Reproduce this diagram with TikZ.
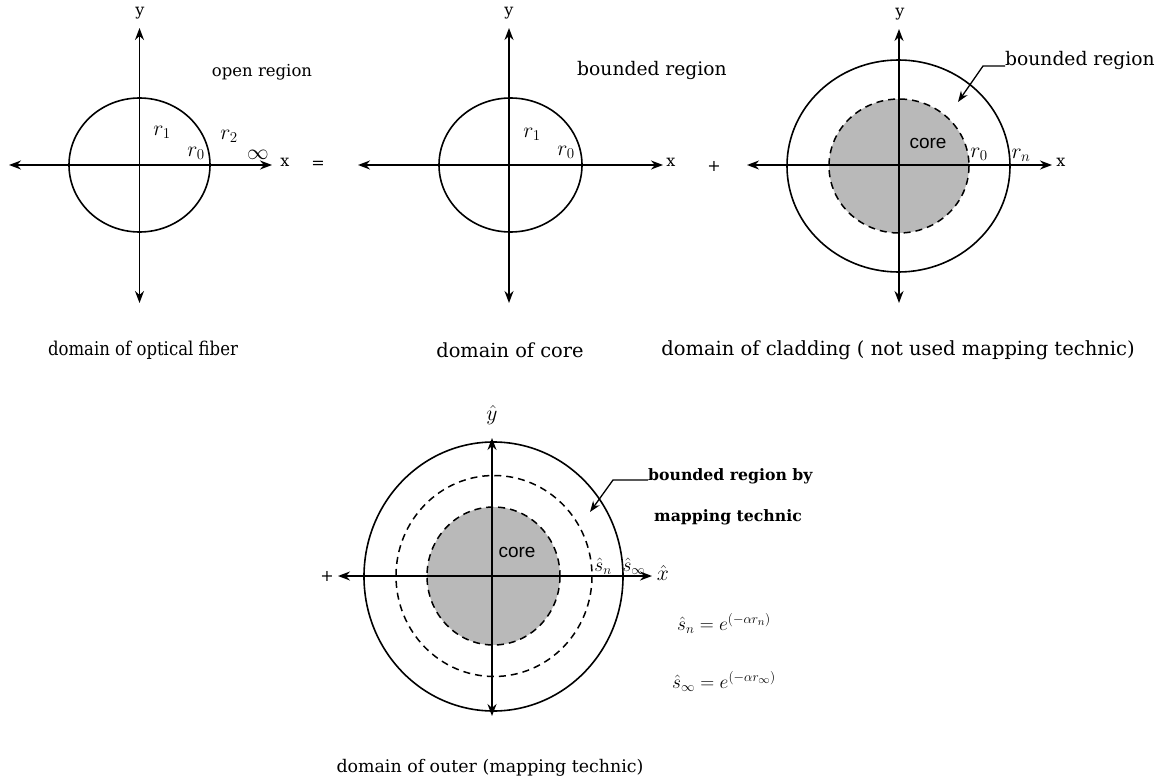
\documentclass[tikz,border=0pt]{standalone}
\usepackage{fontspec}
\setmainfont{DejaVu Serif}
\newfontfamily\narrowfont[FakeStretch=0.87]{DejaVu Serif}
\newfontfamily\corefont{Liberation Sans}
\usetikzlibrary{arrows.meta}
\newcommand{\fsz}[1]{\fontsize{#1}{#1}\selectfont}
\newcommand{\mth}[1]{\scalebox{1.12}{$#1$}}
\newcommand{\rlab}[1]{\scalebox{1.25}{$#1$}}
\begin{document}
\begin{tikzpicture}[x=1pt,y=-1pt,
  tip/.tip={Stealth[length=12pt,width=9pt]},
  bax/.style={line width=1.6pt,{tip}-{tip}},
  lead/.style={line width=1.3pt,-{Stealth[length=11pt,width=8pt]}},
  circ/.style={line width=1.6pt},
  dcirc/.style={line width=1.5pt,dash pattern=on 7pt off 5pt},
  lab/.style={font=\fsz{16},inner sep=0pt},
  mlab/.style={font=\fsz{17.28},inner sep=0pt},
  corelab/.style={font=\corefont\fsz{19},inner sep=0pt},
  boldlab/.style={font=\bfseries\fsz{15.7},inner sep=0pt},
  corefill/.style={fill=gray!55}]
\useasboundingbox (0,0) rectangle (1165,781);

% ---------- panel 1 ----------
\coordinate (a1l) at (9,165); \coordinate (a1r) at (272,165);
\coordinate (a1t) at (139.5,28); \coordinate (a1b) at (139.5,303);
\draw[circ] (139.5,165) ellipse [x radius=70.5, y radius=67];
\draw[bax] (a1l) -- (a1r);
\draw[bax] (a1b) -- (a1t);
\node[lab] (y1) at (140,13) {y};
\node[lab] (x1) at (285,162) {x};
\node[lab,font=\fsz{16.5}] (or) at (262,72) {open region};
\node[mlab] (r11) at (162,132) {\rlab{r_1}};
\node[mlab] (r21) at (229,136) {\rlab{r_2}};
\node[mlab] (r01) at (196,153) {\rlab{r_0}};
\node[mlab] (inf1) at (258,155) {\rlab{\infty}};
\node[lab] (eq) at (318,165) {=};
\node[lab,font=\narrowfont\fsz{19}] (c1) at (143,350) {domain of optical fiber};

% ---------- panel 2 ----------
\coordinate (a2l) at (358,165); \coordinate (a2r) at (663,165);
\coordinate (a2t) at (509,28); \coordinate (a2b) at (509,303);
\draw[circ] (510.5,165) ellipse [x radius=71.5, y radius=67];
\draw[bax] (a2l) -- (a2r);
\draw[bax] (a2b) -- (a2t);
\node[lab] (y2) at (509,13) {y};
\node[lab] (x2) at (671,162) {x};
\node[lab,font=\fsz{18.7}] (br2) at (652,70) {bounded region};
\node[mlab] (r12) at (532,134) {\rlab{r_1}};
\node[mlab] (r02) at (566,152) {\rlab{r_0}};
\node[lab,font=\fsz{19.4}] (c2) at (510,350) {domain of core};

% ---------- panel 3 ----------
\coordinate (a3l) at (747,165); \coordinate (a3r) at (1052,165);
\coordinate (a3t) at (899,29); \coordinate (a3b) at (899,303);
\draw[dcirc,corefill] (899,166) ellipse [x radius=70, y radius=67];
\draw[circ] (898.5,166) ellipse [x radius=111.5, y radius=106];
\draw[bax] (a3l) -- (a3r);
\draw[bax] (a3b) -- (a3t);
\node[lab] (y3) at (900,14) {y};
\node[lab] (x3) at (1061,162) {x};
\node[lab] (plus3) at (714,166) {+};
\node[corelab] (core3) at (928,143) {core};
\node[mlab] (r03) at (979,154) {\rlab{r_0}};
\node[mlab] (rn3) at (1021,155) {\rlab{r_n}};
\node[lab,font=\fsz{18.7},anchor=base west] (br3) at (1005,66) {bounded region};
\coordinate (br3k) at (983,66);
\coordinate (br3t) at (958,102);
\draw[lead] (br3.base west) -- (br3k) -- (br3t);
\node[lab,font=\fsz{19.5}] (c3) at (898,350) {domain of cladding ( not used mapping technic)};

% ---------- panel 4 ----------
\coordinate (a4l) at (338,576); \coordinate (a4r) at (652,576);
\coordinate (a4t) at (492,438); \coordinate (a4b) at (492,716);
\draw[dcirc,corefill] (493.5,576) ellipse [x radius=66.5, y radius=69];
\draw[dcirc] (494,576) ellipse [x radius=98, y radius=100.5];
\draw[circ] (493.5,576.5) ellipse [x radius=129.5, y radius=134.5];
\draw[bax] (a4l) -- (a4r);
\draw[bax] (a4b) -- (a4t);
\node[mlab] (y4) at (492,415) {\rlab{\hat{y}}};
\node[mlab] (x4) at (663,573) {\rlab{\hat{x}}};
\node[lab] (plus4) at (327,576) {+};
\node[corelab] (core4) at (517,552) {core};
\node[mlab] (sn4) at (603,566) {\mth{\hat{s}_n}};
\node[mlab] (si4) at (634,566) {\mth{\hat{s}_\infty}};
\node[boldlab,anchor=base west] (br4) at (648,480) {bounded region by};
\node[boldlab] (mt4) at (728,517) {mapping technic};
\coordinate (br4k) at (613,480);
\coordinate (br4t) at (590,512);
\draw[lead] (br4.base west) -- (br4k) -- (br4t);
\node[mlab] (eqn) at (724,623) {\mth{\hat{s}_n = e^{(-\alpha r_n)}}};
\node[mlab] (eqi) at (724,681) {\mth{\hat{s}_\infty = e^{(-\alpha r_\infty)}}};
\node[lab,font=\fsz{17.4}] (c4) at (490,768) {domain of outer (mapping technic)};
\end{tikzpicture}
\end{document}
